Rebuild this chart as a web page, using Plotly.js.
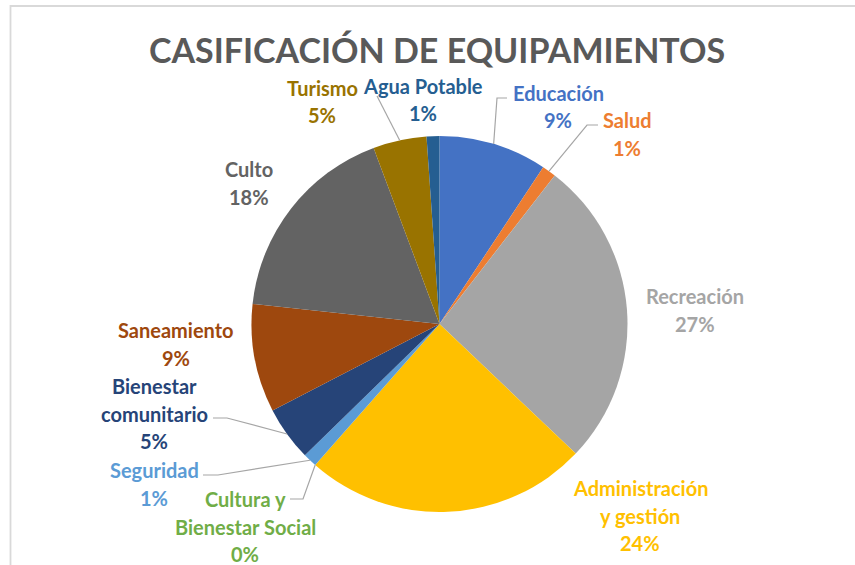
<!DOCTYPE html>
<html>
<head>
<meta charset="utf-8">
<script src="https://cdn.plot.ly/plotly-3.0.1.min.js"></script>
<style>html,body{margin:0;padding:0;background:#fff;}#chart{width:855px;height:565px;}</style>
</head>
<body>
<div id="chart"></div>
<script>
// ---- data ----
const categories = ['Educación','Salud','Recreación','Administración y gestión','Cultura y Bienestar Social','Seguridad','Bienestar comunitario','Saneamiento','Culto','Turismo','Agua Potable'];
const values = [9.3, 1.2, 26.6, 24.4, 0, 1.2, 4.7, 9.3, 17.6, 4.6, 1.1];
const labelLines = [['Educación'],['Salud'],['Recreación'],['Administración','y gestión'],['Cultura y','Bienestar Social'],['Seguridad'],['Bienestar','comunitario'],['Saneamiento'],['Culto'],['Turismo'],['Agua Potable']];
const colors = ['#4472C4','#ED7D31','#A5A5A5','#FFC000','#70AD47','#5B9BD5','#264478','#9E480E','#636363','#997300','#255E91'];

// ---- layout (pixels) ----
const W = 855, H = 565;
const CX = 439.5, CY = 324, R = 188;
const labelPos = [[558,93],[627,120],[695,296],[640,488],[245,499],[154,470],[154,386],[176,330],[249,169],[322,88],[423,86]];
const leaderElbows = [[[507,98],[497,98]],[[598,125],[587,125]],null,null,[[290,499],[303,499]],[[203,475],[218,475]],[[213,418],[227,418]],null,null,[[377,96]],null];
const LINE_STEP = 27.5;
const FONT = 'Lato, "Open Sans", sans-serif';

const px = x => x / W;
const py = y => 1 - y / H;

const total = values.reduce((a,b)=>a+b,0);
const annotations = [];
const shapes = [];
let cum = 0;
values.forEach((v,i)=>{
  const pct = Math.round(v/total*100) + '%';
  const lines = labelLines[i].concat([pct]);
  lines.forEach((t,j)=>{
    annotations.push({xref:'paper',yref:'paper',x:px(labelPos[i][0]),y:py(labelPos[i][1]+j*LINE_STEP),
      xanchor:'center',yanchor:'middle',showarrow:false,text:'<b>'+t+'</b>',
      font:{family:FONT,size:20,color:colors[i]}});
  });
  const mid = (cum + v/2)/total*2*Math.PI;
  cum += v;
  if (leaderElbows[i]) {
    const ex = CX + R*Math.sin(mid), ey = CY - R*Math.cos(mid);
    let path = '';
    leaderElbows[i].forEach((p,k)=>{ path += (k===0?'M':'L') + px(p[0]) + ',' + py(p[1]) + ' '; });
    path += 'L' + px(ex) + ',' + py(ey);
    shapes.push({type:'path',xref:'paper',yref:'paper',path:path,line:{color:'#A6A6A6',width:1.2}});
  }
});
// chart border
shapes.push({type:'rect',xref:'paper',yref:'paper',x0:px(10.5),x1:px(870),y0:py(6),y1:py(580),line:{color:'#D9D9D9',width:1.8},layer:'below'});

const trace = {
  type:'pie', values:values, labels:categories, sort:false, direction:'clockwise', rotation:0,
  marker:{colors:colors, line:{color:'#ffffff',width:0}}, textinfo:'none', hoverinfo:'label+percent',
  domain:{x:[(CX-R)/W,(CX+R)/W], y:[(H-CY-R)/H,(H-CY+R)/H]}, showlegend:false
};
const layout = {
  width:W, height:H, margin:{l:0,r:0,t:0,b:0}, paper_bgcolor:'#fff', showlegend:false,
  title:{text:'<b>CASIFICACIÓN DE EQUIPAMIENTOS</b>', x:437/W, xanchor:'center', y:1-51/H, yanchor:'middle', yref:'container',
    font:{family:FONT,size:34,color:'#595959'}},
  annotations:annotations, shapes:shapes
};
Plotly.newPlot('chart',[trace],layout,{displayModeBar:false,staticPlot:true});
</script>
</body>
</html>
